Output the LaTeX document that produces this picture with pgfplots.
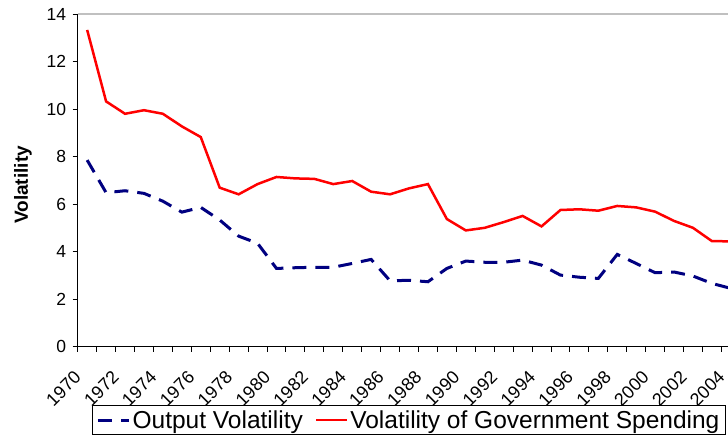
\documentclass[border=0pt]{standalone}
\usepackage{fontspec}
\setmainfont{Liberation Sans}
\usepackage{pgfplots}
\pgfplotsset{compat=1.18}
\definecolor{navyline}{RGB}{0,0,128}
\definecolor{redline}{RGB}{255,0,0}
\definecolor{topgray}{RGB}{192,192,192}
\pgfplotstableread{
year out gov
1970 7.85 13.33
1971 6.48 10.32
1972 6.56 9.80
1973 6.45 9.95
1974 6.12 9.80
1975 5.66 9.27
1976 5.86 8.82
1977 5.33 6.69
1978 4.65 6.41
1979 4.35 6.84
1980 3.29 7.14
1981 3.32 7.08
1982 3.34 7.06
1983 3.34 6.84
1984 3.50 6.97
1985 3.67 6.52
1986 2.77 6.41
1987 2.79 6.66
1988 2.73 6.84
1989 3.29 5.37
1990 3.60 4.89
1991 3.55 5.00
1992 3.55 5.24
1993 3.64 5.50
1994 3.43 5.06
1995 3.01 5.75
1996 2.92 5.78
1997 2.87 5.72
1998 3.88 5.92
1999 3.50 5.86
2000 3.11 5.68
2001 3.14 5.29
2002 2.97 5.00
2003 2.66 4.44
2004 2.45 4.43
}\datatable
\begin{document}
\begin{tikzpicture}[x=1pt,y=1pt]
\useasboundingbox (0,0) rectangle (728,439);
\begin{axis}[
  at={(77.7pt,92.4pt)}, anchor=south west,
  scale only axis, width=662.6pt, height=332.6pt,
  xmin=1969.5, xmax=2004.5, ymin=0, ymax=14,
  axis lines=left,
  axis line style={-, black, line width=1pt},
  tick align=outside,
  major tick length=5pt, minor tick length=5pt,
  tick style={black, line width=0.9pt},
  ytick={0,2,...,14},
  xtick={1970,1972,...,2004},
  xticklabels={1970,1972,1974,1976,1978,1980,1982,1984,1986,1988,1990,1992,1994,1996,1998,2000,2002,2004},
  minor xtick={1969.5,1970.5,...,2004.5},
  major x tick style={draw=none},
  /pgf/number format/assume math mode=true,
  yticklabel style={font=\fontsize{17.5}{20}\selectfont, xshift=-3pt},
  xticklabel style={font=\fontsize{18}{21}\selectfont, inner sep=0pt, xshift=-14pt, yshift=-18pt, rotate=45, anchor=north east},
  ylabel={Volatility},
  ylabel style={font=\bfseries\fontsize{19}{22}\selectfont, at={(rel axis cs:0,0.486)}, anchor=south, inner sep=0pt, yshift=45.7pt},
  legend columns=2,
  legend style={at={(0.5,-0.1756)}, anchor=north, draw=black, line width=0.8pt,
    font=\fontsize{24.5}{27}\selectfont, inner xsep=4pt, inner ysep=3pt,
    /tikz/every even column/.append style={column sep=10pt}},
  legend image code/.code={\draw[#1] (0pt,0pt) -- (31pt,0pt);},
]
\draw[topgray, line width=1.5pt] (rel axis cs:0,1) -- (rel axis cs:1,1);
\addplot[navyline, line width=3pt, dash pattern=on 14pt off 9pt] table[x=year, y=out] {\datatable};
\addlegendentry{Output Volatility}
\addplot[redline, line width=2.5pt] table[x=year, y=gov] {\datatable};
\addlegendentry{Volatility of Government Spending}
\end{axis}
\end{tikzpicture}
\end{document}
